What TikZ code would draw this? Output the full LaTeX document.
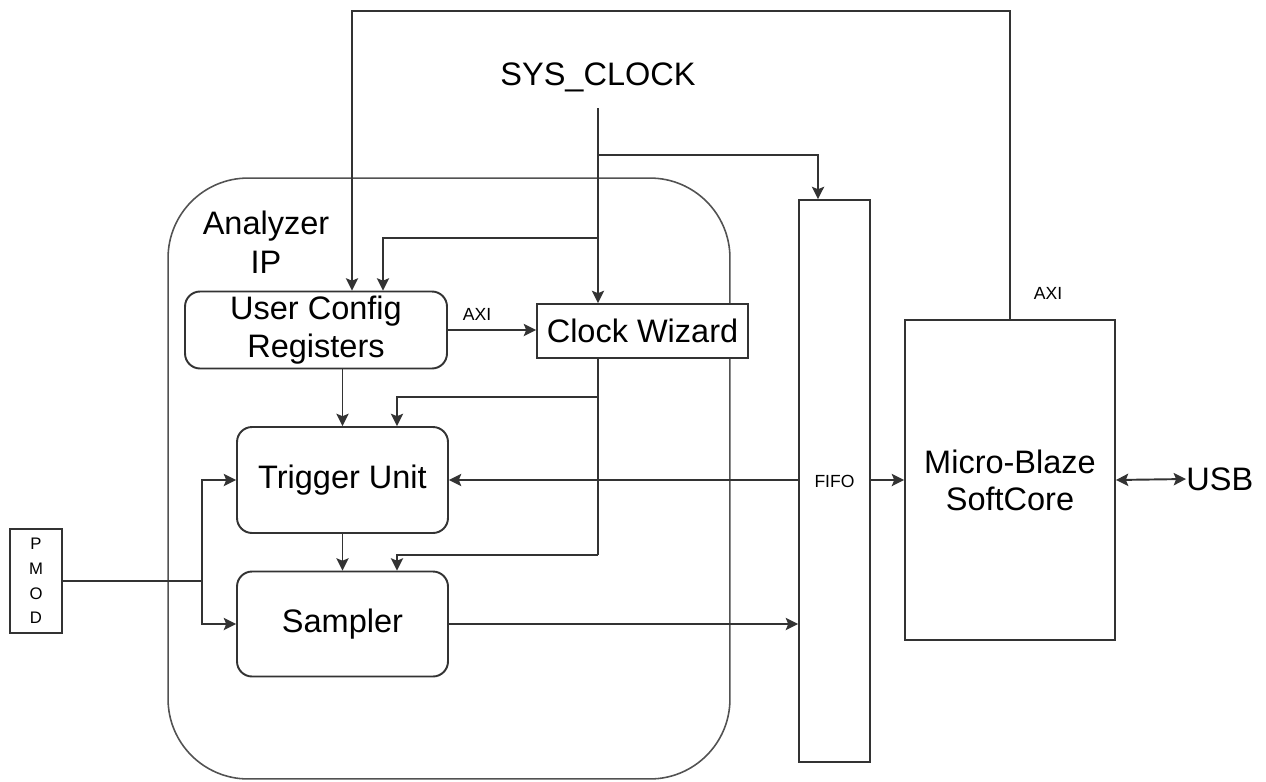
\documentclass[tikz,border=0pt]{standalone}
\usepackage{fontspec}
\setmainfont{Liberation Sans}
\usepackage{tikz}
\usetikzlibrary{positioning,arrows.meta,calc}
\definecolor{ink}{HTML}{333333}
\tikzset{
  blk/.style={draw=ink, line width=1.1pt, rounded corners=0.3cm, fill=white,
              inner sep=0pt, align=center, font=\fontsize{18.5}{22}\selectfont},
  sqb/.style={draw=ink, line width=1.1pt, fill=white,
              inner sep=0pt, align=center, font=\fontsize{18.5}{22}\selectfont},
  big/.style={inner sep=0pt, align=center, font=\fontsize{18.5}{22}\selectfont},
  lbl/.style={inner sep=0pt, font=\fontsize{10}{12}\selectfont},
  wire/.style={draw=ink, line width=1.1pt, -{Stealth[length=7pt,width=7pt,inset=1.4pt]}},
  dwire/.style={draw=ink, line width=1.1pt,
                {Stealth[length=7pt,width=7pt,inset=1.4pt]}-{Stealth[length=7pt,width=7pt,inset=1.4pt]}},
  plain/.style={draw=ink, line width=1.1pt},
}
\begin{document}
\begin{tikzpicture}[x=0.02cm, y=-0.02cm]
  \useasboundingbox (0,0) rectangle (1266,781);
  % analyzer IP outline
  \node[draw=ink!85, line width=0.9pt, rounded corners=1.6cm, minimum width=11.24cm,
        minimum height=12.02cm, inner sep=0pt] (ana) at (449,478.5) {};
  \node[big] (anatxt) at (266,242) {Analyzer\\IP};
  % blocks inside the IP
  \node[blk, minimum width=5.24cm, minimum height=1.54cm] (ucr) at (316,330) {User Config\\Registers};
  \node[sqb, minimum width=4.22cm, minimum height=1.08cm] (cw) at (642.5,331) {Clock Wizard};
  \node[blk, minimum width=4.22cm, minimum height=2.12cm] (trig) at (342.5,480) {Trigger Unit};
  \node[blk, minimum width=4.22cm, minimum height=2.1cm] (samp) at (342.5,624) {Sampler};
  % outside blocks
  \node[sqb, minimum width=1.42cm, minimum height=11.24cm,
        font=\fontsize{10}{12}\selectfont] (fifo) at (834.5,481) {FIFO};
  \node[sqb, minimum width=4.2cm, minimum height=6.4cm,
        font=\fontsize{18.5}{21}\selectfont] (mb) at (1010,480) {Micro-Blaze\\SoftCore};
  \node[sqb, minimum width=1.04cm, minimum height=2.08cm,
        font=\fontsize{9.5}{14}\selectfont] (pmod) at (36,581) {P\\M\\O\\D};
  \node[big, anchor=west] (usb) at (1186,479) {USB};
  \node[big] (sys) at (598,77) {SYS\_CLOCK};
  % clock taps
  \coordinate (clk) at (598,108);
  \coordinate (jf) at (598,155);
  \coordinate (ju) at (598,238);
  \coordinate (jt) at (598,397);
  \coordinate (js) at (598,555);
  \coordinate (jp) at (202,581);
  % system clock distribution
  \draw[wire] (clk) -- (clk |- cw.north);
  \draw[wire] (jf) -| ($(fifo.north)+(-16.5,0)$);
  \draw[wire] (ju) -| ($(ucr.north)+(67,0)$);
  % AXI from the soft core back to the registers
  \draw[wire] (mb.north) -- ++(0,-308) -| ($(ucr.north)+(36,0)$);
  \node[lbl] (axib) at (1048,293) {AXI};
  \draw[wire] (ucr.east) -- (ucr.east -| cw.west);
  \node[lbl] (axia) at (477,314) {AXI};
  % generated clocks
  \draw[plain] (cw.south -| jt) -- (js);
  \draw[wire] (jt) -| ($(trig.north)+(54.5,0)$);
  \draw[wire] (js) -| ($(samp.north)+(54.5,0)$);
  % data path
  \draw[wire] (ucr.south -| trig.north) -- (trig.north);
  \draw[wire] (trig.south) -- (samp.north);
  \draw[plain] (pmod.east) -- (jp);
  \draw[wire] (jp) |- (trig.west);
  \draw[wire] (jp) |- (samp.west);
  \draw[wire] (fifo.west |- trig.east) -- (trig.east);
  \draw[wire] (samp.east) -- (samp.east -| fifo.west);
  \draw[wire] (fifo.east |- mb.west) -- (mb.west);
  \draw[dwire] (mb.east) -- (usb.west);
\end{tikzpicture}
\end{document}
